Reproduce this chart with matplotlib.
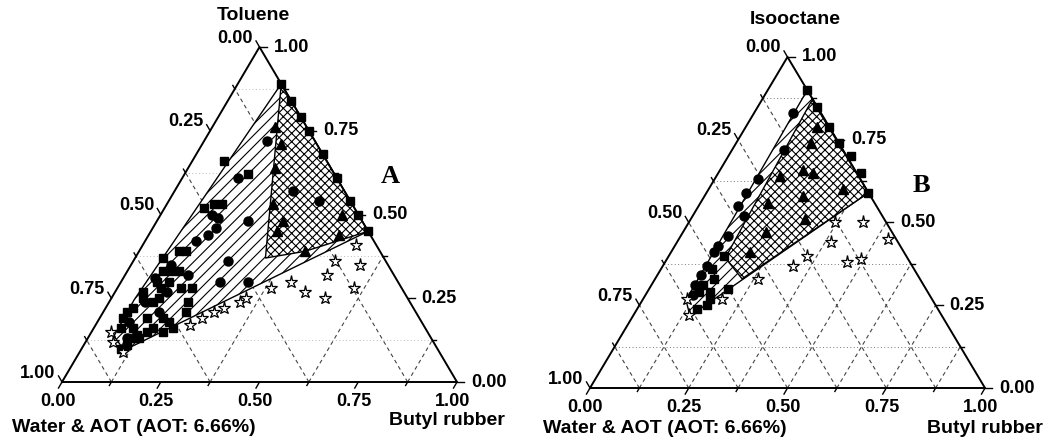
import numpy as np
import matplotlib.pyplot as plt
from matplotlib.patches import Polygon

plt.rcParams['font.family'] = ['Liberation Sans', 'DejaVu Sans']
plt.rcParams['font.weight'] = 'bold'
plt.rcParams['hatch.linewidth'] = 0.8

H = np.sqrt(3) / 2

# compositions, as (butyl rubber, solvent) fractions;
# water & AOT is the rest

# ---- A: toluene ----
a_edge_butyl = [0.11, 0.16, 0.21, 0.25, 0.32, 0.39, 0.46, 0.50, 0.55]
a_edge_tol = [0.89, 0.84, 0.79, 0.75, 0.68, 0.61, 0.54, 0.50, 0.45]

a_sq_butyl = [0.08, 0.16, 0.10, 0.12, 0.14, 0.07, 0.10, 0.12, 0.11, 0.09, 0.13, 0.09, 0.11,
              0.12, 0.16, 0.07, 0.08, 0.11, 0.12, 0.07, 0.06, 0.12, 0.16, 0.06, 0.07, 0.10,
              0.12, 0.14, 0.15, 0.18, 0.11, 0.11, 0.13, 0.10, 0.18, 0.20, 0.21, 0.20, 0.19]
a_sq_tol = [0.66, 0.62, 0.52, 0.53, 0.53, 0.37, 0.39, 0.39, 0.33, 0.33, 0.33, 0.30, 0.28,
            0.30, 0.28, 0.27, 0.25, 0.24, 0.25, 0.22, 0.21, 0.19, 0.19, 0.19, 0.16, 0.16,
            0.14, 0.15, 0.16, 0.15, 0.13, 0.11, 0.13, 0.10, 0.18, 0.16, 0.21, 0.24, 0.28]

a_ci_butyl = [0.16, 0.14, 0.13, 0.15, 0.23, 0.15, 0.13, 0.16, 0.16, 0.24, 0.25, 0.32, 0.30, 0.38,
              0.08, 0.10, 0.09, 0.13, 0.14, 0.08, 0.10]
a_ci_tol = [0.72, 0.61, 0.50, 0.49, 0.48, 0.44, 0.42, 0.46, 0.32, 0.36, 0.30, 0.30, 0.57, 0.54,
            0.31, 0.35, 0.24, 0.27, 0.21, 0.18, 0.13]

a_tri_butyl = [0.16, 0.20, 0.22, 0.27, 0.32, 0.32, 0.46, 0.48, 0.42]
a_tri_tol = [0.76, 0.71, 0.64, 0.53, 0.48, 0.45, 0.50, 0.44, 0.39]

a_star_butyl = [0.05, 0.07, 0.11, 0.24, 0.26, 0.28, 0.30, 0.33, 0.34, 0.39, 0.43, 0.48,
                0.54, 0.51, 0.51, 0.60, 0.58, 0.54]
a_star_tol = [0.15, 0.12, 0.09, 0.17, 0.19, 0.21, 0.22, 0.24, 0.25, 0.28, 0.30, 0.27,
              0.25, 0.32, 0.36, 0.28, 0.35, 0.41]

a_zone_butyl = [0.11, 0.063, 0.06, 0.11, 0.55]
a_zone_tol = [0.095, 0.137, 0.245, 0.89, 0.45]
a_cross_butyl = [0.11, 0.55, 0.42, 0.33]
a_cross_tol = [0.89, 0.45, 0.39, 0.37]

# ---- B: isooctane ----
b_edge_butyl = [0.10, 0.15, 0.21, 0.26, 0.31, 0.36, 0.41]
b_edge_iso = [0.90, 0.85, 0.79, 0.74, 0.70, 0.65, 0.59]

b_ci_butyl = [0.10, 0.13, 0.11, 0.10, 0.10, 0.13, 0.12, 0.11, 0.11, 0.11, 0.11, 0.11, 0.12]
b_ci_iso = [0.83, 0.72, 0.63, 0.59, 0.55, 0.52, 0.46, 0.43, 0.41, 0.37, 0.34, 0.31, 0.28]

b_sq_butyl = [0.14, 0.13, 0.15, 0.13, 0.16, 0.20, 0.17, 0.15, 0.17, 0.13]
b_sq_iso = [0.40, 0.36, 0.33, 0.31, 0.29, 0.30, 0.27, 0.24, 0.25, 0.29]

b_tri_butyl = [0.18, 0.19, 0.21, 0.24, 0.34, 0.25, 0.16, 0.17, 0.29, 0.21, 0.20]
b_tri_iso = [0.79, 0.74, 0.66, 0.65, 0.60, 0.58, 0.64, 0.56, 0.51, 0.47, 0.41]

b_star_butyl = [0.11, 0.14, 0.20, 0.26, 0.37, 0.44, 0.39, 0.35, 0.33, 0.46, 0.49, 0.53]
b_star_iso = [0.27, 0.22, 0.27, 0.33, 0.50, 0.50, 0.44, 0.40, 0.37, 0.38, 0.39, 0.45]

b_zone_butyl = [0.144, 0.11, 0.10, 0.41]
b_zone_iso = [0.218, 0.266, 0.90, 0.59]
b_cross_butyl = [0.127, 0.41, 0.22, 0.146]
b_cross_iso = [0.87, 0.59, 0.33, 0.393]

major = [0.0, 0.25, 0.5, 0.75, 1.0]
minor = [0.125, 0.375, 0.625, 0.875]

W, HT = 1052, 444
fig = plt.figure(figsize=(W / 100, HT / 100), dpi=100)


def to_xy(butyl, top):
    b = np.asarray(butyl, dtype=float)
    c = np.asarray(top, dtype=float)
    return b + c / 2, c * H


def make_axes(x0, x1, cx, cy, side, height):
    ax = fig.add_axes([x0 / W, 0, (x1 - x0) / W, 1])
    sx, sy = side, height / H
    ax.set_xlim((x0 - cx) / sx, (x1 - cx) / sx)
    ax.set_ylim((cy - HT) / sy, cy / sy)
    ax.axis('off')
    return ax, sx, sy


def draw_frame(ax, sx, sy, grid_vals, hgrid_vals, hgrid_color):
    gkw = dict(ls=(0, (3.5, 3)), color='#444444', lw=0.8, zorder=1)
    for v in grid_vals:
        ax.plot(*to_xy([v, v], [0, 1 - v]), **gkw)
        ax.plot(*to_xy([1 - v, 0], [0, 1 - v]), **gkw)
    for c in hgrid_vals:
        ax.plot(*to_xy([0, 1 - c], [c, c]), ls=(0, (1, 2.5)), color=hgrid_color, lw=0.7, zorder=1)

    ax.plot(*to_xy([0, 1, 0, 0], [0, 0, 1, 0]), color='black', lw=1.4, zorder=5)

    tkw = dict(color='black', lw=1.0, zorder=5)
    for vals, length in ((major, 7), (minor, 4)):
        for v in vals:
            # bottom axis
            x, y = to_xy(v, 0)
            ax.plot([x, x - 0.5 * length / sx], [y, y - H * length / sy], **tkw)
            # right axis
            x, y = to_xy(1 - v, v)
            ax.plot([x, x + length / sx], [y, y], **tkw)
            # left axis (0 at top)
            x, y = to_xy(0, 1 - v)
            ax.plot([x, x - 0.5 * length / sx], [y, y + H * length / sy], **tkw)

    fkw = dict(fontsize=13, fontweight='bold', va='center')
    for v in major:
        s = f'{v:.2f}'
        x, y = to_xy(v, 0)
        ax.text(x - 4.5 / sx, y - 19 / sy, s, ha='center', **fkw)
        x, y = to_xy(1 - v, v)
        ax.text(x + 14 / sx, y, s, ha='left', **fkw)
        x, y = to_xy(0, 1 - v)
        ax.text(x - 6.5 / sx, y + 9 / sy, s, ha='right', **fkw)


def draw_data(ax, zone, cross, squares, circles, triangles, stars):
    ax.add_patch(Polygon(np.column_stack(to_xy(*zone)), closed=True, facecolor='white',
                         edgecolor='black', hatch='///', lw=1.0, zorder=2))
    ax.add_patch(Polygon(np.column_stack(to_xy(*cross)), closed=True, facecolor='white',
                         edgecolor='black', hatch='xxxx', lw=1.0, zorder=3))
    for b, c in squares:
        ax.plot(*to_xy(b, c), 's', color='black', ms=6, ls='none', zorder=6)
    for b, c in circles:
        ax.plot(*to_xy(b, c), 'o', color='black', ms=6.5, ls='none', zorder=6)
    for b, c in triangles:
        ax.plot(*to_xy(b, c), '^', color='black', ms=7, ls='none', zorder=6)
    for b, c in stars:
        ax.plot(*to_xy(b, c), '*', mfc='white', mec='black', mew=0.9, ms=9.5, ls='none', zorder=6)


def labels(ax, sx, sy, top_name, top_off, water_off, rubber_off, letter, letter_xy):
    lkw = dict(fontsize=14, fontweight='bold', va='center')
    ax.text(0.5 + top_off[0] / sx, H + top_off[1] / sy, top_name, ha='center', **lkw)
    ax.text(water_off[0] / sx, water_off[1] / sy, 'Water & AOT (AOT: 6.66%)', ha='left', **lkw)
    ax.text(1 + rubber_off[0] / sx, rubber_off[1] / sy, 'Butyl rubber', ha='right', **lkw)
    ax.text(*letter_xy, letter, fontsize=19, fontweight='bold', ha='center', va='center',
            family=['Liberation Serif', 'DejaVu Serif'])


# panel A
axA, sxA, syA = make_axes(0, 520, 62, 382, 395, 335)
draw_frame(axA, sxA, syA, minor, minor, '#bbbbbb')
draw_data(axA, (a_zone_butyl, a_zone_tol), (a_cross_butyl, a_cross_tol),
          [(a_edge_butyl, a_edge_tol), (a_sq_butyl, a_sq_tol)],
          [(a_ci_butyl, a_ci_tol)], [(a_tri_butyl, a_tri_tol)], [(a_star_butyl, a_star_tol)])
labels(axA, sxA, syA, 'Toluene', (-6, 32), (-50, -45), (48, -38), 'A', (0.83, 0.53))

# panel B
axB, sxB, syB = make_axes(520, 1052, 590, 388, 395, 331)
draw_frame(axB, sxB, syB, [0.125, 0.25, 0.375, 0.5, 0.625, 0.75, 0.875], minor, '#777777')
draw_data(axB, (b_zone_butyl, b_zone_iso), (b_cross_butyl, b_cross_iso),
          [(b_edge_butyl, b_edge_iso), (b_sq_butyl, b_sq_iso)],
          [(b_ci_butyl, b_ci_iso)], [(b_tri_butyl, b_tri_iso)], [(b_star_butyl, b_star_iso)])
labels(axB, sxB, syB, 'Isooctane', (8, 37), (-47, -40), (58, -40), 'B', (0.838, 0.531))

fig.savefig('out.png', dpi=100)
